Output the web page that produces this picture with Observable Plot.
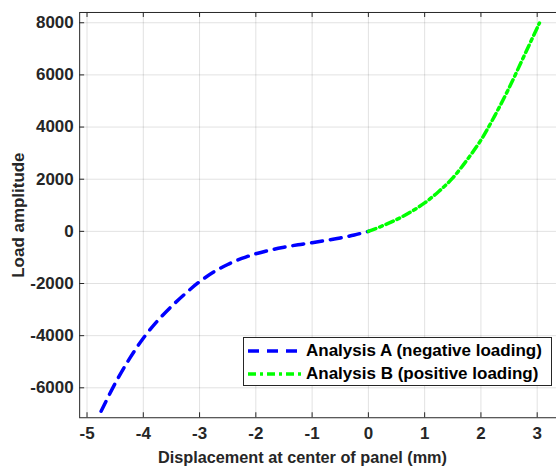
<!DOCTYPE html>
<html>
<head>
<meta charset="utf-8">
<script src="https://cdn.jsdelivr.net/npm/d3@7"></script>
<script src="https://cdn.jsdelivr.net/npm/@observablehq/plot@0.6"></script>
<style>
  html, body { margin: 0; padding: 0; background: #fff; overflow: hidden; }
  #wrap { position: relative; width: 556px; height: 467px; font-family: "Liberation Sans", Arial, Helvetica, sans-serif; font-weight: bold; color: #262626; }
  #xlabel { position: absolute; left: 302.5px; top: 457px; transform: translate(-50%, -50%); font-size: 16.25px; white-space: nowrap; }
  #legend { position: absolute; left: 243px; top: 337px; width: 307px; height: 47px; border: 1px solid #262626; background: #fff; font-size: 17px; color: #000; }
  .row { position: absolute; left: 3px; height: 20px; display: flex; align-items: center; white-space: nowrap; }
  .row svg { margin-right: 4px; }
</style>
</head>
<body>
<div id="wrap"></div>
<script>
// Data
const seriesNames = ["Analysis A (negative loading)", "Analysis B (positive loading)"];
const seriesColors = ["#0000ff", "#00ff00"];
const blueX = [-4.75, -4.5, -4.25, -4, -3.75, -3.5, -3.25, -3, -2.75, -2.5, -2.25, -2, -1.75, -1.5, -1.25, -1, -0.75, -0.5, -0.25, 0];
const blueY = [-6900, -5830, -4900, -4100, -3440, -2880, -2380, -1930, -1560, -1270, -1040, -860, -720, -610, -515, -435, -350, -255, -140, 0];
const greenX = [0, 0.25, 0.5, 0.75, 1, 1.25, 1.5, 1.75, 2, 2.25, 2.5, 2.75, 3.04];
const greenY = [0, 210, 450, 740, 1090, 1530, 2050, 2730, 3500, 4450, 5500, 6650, 7990];
const xTicks = [-5, -4, -3, -2, -1, 0, 1, 2, 3];
const yTicks = [-6000, -4000, -2000, 0, 2000, 4000, 6000, 8000];
const xLabel = "Displacement at center of panel (mm)";
const yLabel = "Load amplitude";

const blue = blueX.map((x, i) => ({x, y: blueY[i]}));
const green = greenX.map((x, i) => ({x, y: greenY[i]}));
const dashes = ["11,8", "8,4,3,4"];

const fmt = d => String(d);
const H = 467, mTop = 12, mBottom = 49;
const frameH = H - mTop - mBottom;

const chart = Plot.plot({
  width: 557,
  height: H,
  marginLeft: 79.3,
  marginRight: 0,
  marginTop: mTop,
  marginBottom: mBottom,
  style: {fontFamily: '"Liberation Sans", Arial, Helvetica, sans-serif', fontWeight: "bold", color: "#262626", background: "#fff"},
  x: {domain: [-5.131, 3.343]},
  y: {domain: [-7148, 8394]},
  marks: [
    Plot.gridX(xTicks, {stroke: "#000", strokeOpacity: 0.12}),
    Plot.gridY(yTicks, {stroke: "#000", strokeOpacity: 0.12}),
    Plot.line(blue, {x: "x", y: "y", stroke: seriesColors[0], strokeWidth: 3.5, strokeDasharray: dashes[0], curve: "catmull-rom"}),
    Plot.line(green, {x: "x", y: "y", stroke: seriesColors[1], strokeWidth: 3.5, strokeDasharray: dashes[1], curve: "catmull-rom"}),
    Plot.frame({stroke: "#262626"}),
    Plot.tickX(xTicks, {x: d => d, insetTop: frameH - 5, stroke: "#262626"}),
    Plot.tickX(xTicks, {x: d => d, insetBottom: frameH - 5, stroke: "#262626"}),
    Plot.tickY(yTicks, {y: d => d, insetRight: 557 - 79.3 - 5, stroke: "#262626"}),
    Plot.axisX(xTicks, {tickSize: 0, tickPadding: 9, tickFormat: fmt, fontSize: 17, fontWeight: "bold", label: null}),
    Plot.axisY(yTicks, {tickSize: 0, tickPadding: 6, tickFormat: fmt, fontSize: 17, fontWeight: "bold",
      label: yLabel, labelAnchor: "center", labelArrow: "none", labelOffset: 68})
  ]
});
const wrap = document.getElementById("wrap");
wrap.appendChild(chart);

const xl = document.createElement("div");
xl.id = "xlabel";
xl.textContent = xLabel;
wrap.appendChild(xl);

const legend = document.createElement("div");
legend.id = "legend";
seriesNames.forEach((name, i) => {
  const row = document.createElement("div");
  row.className = "row";
  row.style.top = (3 + i * 23) + "px";
  row.innerHTML = `<svg width="55" height="8"><line x1="1" y1="4" x2="54" y2="4" stroke="${seriesColors[i]}" stroke-width="3.5" stroke-dasharray="${dashes[i]}"/></svg><span>${name}</span>`;
  legend.appendChild(row);
});
wrap.appendChild(legend);
</script>
</body>
</html>
